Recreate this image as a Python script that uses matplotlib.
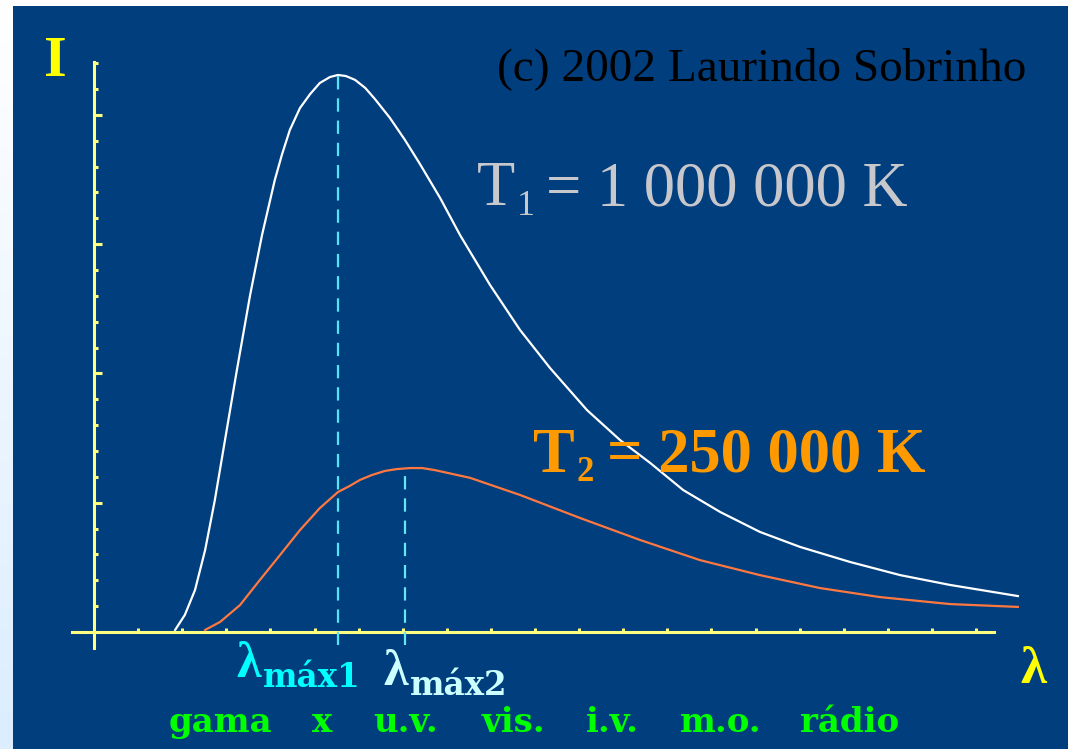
import numpy as np
import matplotlib.pyplot as plt

W, H = 1068, 749

# Planck curves, in axis tick units (x: wavelength ticks, y: intensity ticks)
lam_t1 = [1.84, 2.06, 2.29, 2.52, 2.74, 2.97, 3.24, 3.54, 3.81, 4.10, 4.26, 4.44, 4.67,
          4.90, 5.12, 5.35, 5.53, 5.71, 5.92, 6.15, 6.37, 6.71, 7.05, 7.39, 7.85, 8.30,
          8.98, 9.66, 10.34, 11.18, 11.93, 12.61, 13.36, 14.20, 15.10, 16.01, 17.14,
          18.28, 19.41, 20.95]
int_t1 = [0.08, 0.66, 1.62, 3.17, 5.10, 7.42, 10.13, 13.03, 15.35, 17.48, 18.45, 19.41, 20.26,
          20.80, 21.23, 21.46, 21.54, 21.50, 21.35, 21.04, 20.61, 19.88, 19.03, 18.10, 16.78, 15.35,
          13.42, 11.68, 10.21, 8.58, 7.42, 6.54, 5.49, 4.64, 3.87, 3.29, 2.71,
          2.20, 1.82, 1.39]

lam_t2 = [2.52, 2.86, 3.31, 3.76, 4.22, 4.67, 5.12, 5.53, 5.80, 6.03, 6.30, 6.60, 6.87,
          7.17, 7.44, 7.73, 8.53, 9.66, 11.02, 12.38, 13.74, 15.10, 16.46, 17.82, 19.41, 20.95]
int_t2 = [0.08, 0.39, 1.04, 2.01, 2.98, 3.94, 4.79, 5.41, 5.65, 5.88, 6.07, 6.23, 6.30,
          6.34, 6.34, 6.26, 5.96, 5.30, 4.41, 3.56, 2.78, 2.20, 1.70, 1.35, 1.08, 0.97]

lam_max = [5.53, 7.05]
peak_int = [21.54, 6.30]

bands = ['gama', 'x', 'u.v.', 'vis.', 'i.v.', 'm.o.', 'rádio']
band_pos = [2.86, 5.17, 7.07, 9.52, 11.75, 14.22, 17.14]

BG = '#003e7e'
AXIS = '#ffff80'

fig = plt.figure(figsize=(W / 100, H / 100), dpi=100)
fig.patch.set_facecolor('white')


def fpos(x, y):
    return x / W, 1 - y / H


# pale strip down the left edge
strip = fig.add_axes([0, 0, 13 / W, 1])
grad = np.linspace(0, 1, 256).reshape(-1, 1)
strip.imshow(np.dstack([0.86 + 0.14 * (1 - grad), 0.93 + 0.07 * (1 - grad), np.ones_like(grad)]),
             aspect='auto', extent=[0, 1, 0, 1])
strip.axis('off')

ax = fig.add_axes([13 / W, 0, (W - 13) / W, (H - 6) / H])
ax.set_facecolor(BG)
ax.set_xlim((13 - 94) / 44.1, (W - 94) / 44.1)
ax.set_ylim((632 - H) / 25.86, (632 - 6) / 25.86)

for s in ['top', 'right']:
    ax.spines[s].set_visible(False)
for s in ['left', 'bottom']:
    ax.spines[s].set_position(('data', 0))
    ax.spines[s].set_color(AXIS)
    ax.spines[s].set_linewidth(2.2)
ax.spines['left'].set_bounds(-0.6, 22.05)
ax.spines['bottom'].set_bounds(-0.5, 20.4)

ax.set_xticks(np.arange(1, 21))
ax.set_yticks([5, 10, 15, 20])
ax.set_yticks([v for v in range(1, 23) if v % 5], minor=True)
ax.tick_params(axis='x', direction='in', length=3, width=2.2, color=AXIS, labelbottom=False)
ax.tick_params(axis='y', which='major', direction='in', length=6, width=2.2, color=AXIS, labelleft=False)
ax.tick_params(axis='y', which='minor', direction='in', length=3, width=2.2, color=AXIS, labelleft=False)

ax.plot(lam_t1, int_t1, color='white', lw=1.6, zorder=3)
ax.plot(lam_t2, int_t2, color='#ff7840', lw=1.6, zorder=3)

ax.plot([lam_max[0]] * 2, [-0.5, peak_int[0]], color='#55e4f0', lw=1.6,
        dashes=(6, 4), zorder=4)
ax.plot([lam_max[1]] * 2, [-0.5, peak_int[1]], color='#66e8f4', lw=1.6,
        dashes=(6, 4), zorder=4)

# axis names
fig.text(*fpos(44, 76), 'I', color='#ffff00', fontsize=42, fontweight='bold',
         family='Liberation Serif', va='baseline', ha='left')
fig.text(*fpos(1020, 683), 'λ', color='#ffff00', fontsize=38, fontweight='bold',
         family='Liberation Serif', va='baseline', ha='left')

# peak wavelength labels
for x0, base, sub, col in [(236, 677, 'máx1', '#00ffff'), (383, 685, 'máx2', '#ccffff')]:
    fig.text(*fpos(x0, base), 'λ', color=col, fontsize=36, fontweight='bold',
             family='Liberation Serif', va='baseline', ha='left')
    fig.text(*fpos(x0 + 27, base + 10), sub, color=col, fontsize=23.5, fontweight='bold',
             family='DejaVu Serif', va='baseline', ha='left')

# spectral bands
for name, xb in zip(bands, band_pos):
    ax.text(xb, (632 - 732) / 25.86, name, color='#00ff00', fontsize=24.5,
            fontweight='bold', family='DejaVu Serif', ha='center', va='baseline')

# temperatures
fig.text(*fpos(477, 205), 'T', color='#c8c8cc', fontsize=45, family='Liberation Serif',
         va='baseline', ha='left')
fig.text(*fpos(517, 215), '1', color='#c8c8cc', fontsize=26, family='Liberation Serif',
         va='baseline', ha='left')
fig.text(*fpos(546, 205), '= 1 000 000 K', color='#c8c8cc', fontsize=45,
         family='Liberation Serif', va='baseline', ha='left')

fig.text(*fpos(533, 472), 'T', color='#ff9900', fontsize=45, fontweight='bold',
         family='Liberation Serif', va='baseline', ha='left')
fig.text(*fpos(577, 481), '2', color='#ff9900', fontsize=25, fontweight='bold',
         family='Liberation Serif', va='baseline', ha='left')
fig.text(*fpos(607, 472), '= 250 000 K', color='#ff9900', fontsize=45, fontweight='bold',
         family='Liberation Serif', va='baseline', ha='left')

fig.text(*fpos(497, 80), '(c) 2002 Laurindo Sobrinho', color='black', fontsize=34,
         family='Liberation Serif', va='baseline', ha='left')

fig.savefig('out.png', dpi=100, facecolor=fig.get_facecolor())
